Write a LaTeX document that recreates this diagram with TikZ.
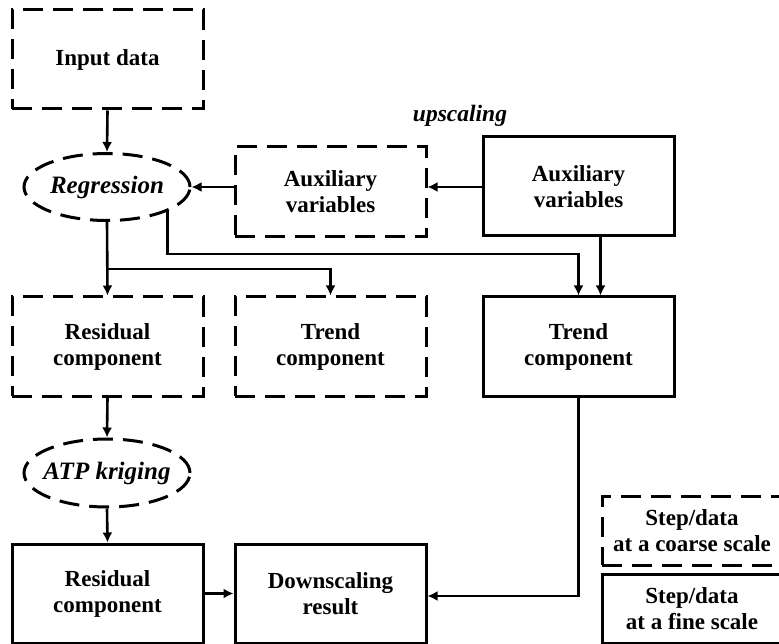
\documentclass[tikz,border=0pt]{standalone}
\usepackage{fontspec}
\setmainfont{Liberation Serif}
\usepackage{tikz}
\usetikzlibrary{arrows.meta,shapes.geometric,calc}
\tikzset{
 box/.style={draw,line width=3pt,minimum width=191pt,minimum height=99pt,inner sep=0pt,align=center,font=\fontsize{23}{26}\selectfont\bfseries},
 cbox/.style={box,dash pattern=on 20pt off 10pt},
 elli/.style={ellipse,draw,line width=3pt,dash pattern=on 20pt off 10pt,minimum width=166pt,minimum height=67pt,inner xsep=-5pt,inner ysep=0pt,font=\fontsize{25}{28}\selectfont\bfseries\itshape},
 arr/.style={line width=2.6pt,-{Latex[length=10pt,width=10pt]}},
}
\begin{document}
\begin{tikzpicture}[x=1pt,y=-1pt]
\useasboundingbox (0,0) rectangle (779,644);
\node[cbox] (In) at (107.5,59.5) {Input data};
\node[elli] (Reg) at (107,187) {Regression};
\node[cbox,minimum height=90pt] (AuxC) at (330.5,192) {Auxiliary\\variables};
\node[box] (AuxF) at (578.5,186.5) {Auxiliary\\variables};
\node[font=\fontsize{23.5}{26}\selectfont\bfseries\itshape] (Up) at (460,116) {upscaling};
\node[cbox] (ResC) at (107.5,346.5) {Residual\\component};
\node[cbox] (TrC) at (330.5,346.5) {Trend\\component};
\node[box] (TrF) at (578.5,346.5) {Trend\\component};
\node[elli,minimum height=68pt] (ATP) at (107,473) {ATP kriging};
\node[box] (ResF) at (107.5,593.5) {Residual\\component};
\node[box] (Down) at (330.5,593.5) {Downscaling\\result};
\node[cbox,minimum width=180pt,minimum height=69pt] (LegC) at (692,530.5) {Step/data\\at a coarse scale};
\node[box,minimum width=180pt,minimum height=69pt] (LegF) at (692,608.5) {Step/data\\at a fine scale};
\coordinate (B1) at (107,269);
\coordinate (B2) at (166,254);
\draw[arr] (In.south) -- (Reg.north);
\draw[arr] (AuxF.west |- 0,187) -- (AuxC.east |- 0,187);
\draw[arr] (AuxC.west |- Reg.east) -- (Reg.east);
\draw[arr] (Reg.south) -- (ResC.north);
\draw[arr] (B1) -| (TrC.north);
\draw[arr] (Reg.-22) |- (B2) -| (TrF.north);
\draw[arr] ([xshift=22pt]AuxF.south) -- ([xshift=22pt]TrF.north);
\draw[arr] (ResC.south) -- (ATP.north);
\draw[arr] (ATP.south) -- (ResF.north);
\draw[arr] (ResF.east) -- (Down.east -| Down.west);
\draw[arr] (TrF.south) |- ($(Down.east)+(0,2.5)$);
\end{tikzpicture}
\end{document}
